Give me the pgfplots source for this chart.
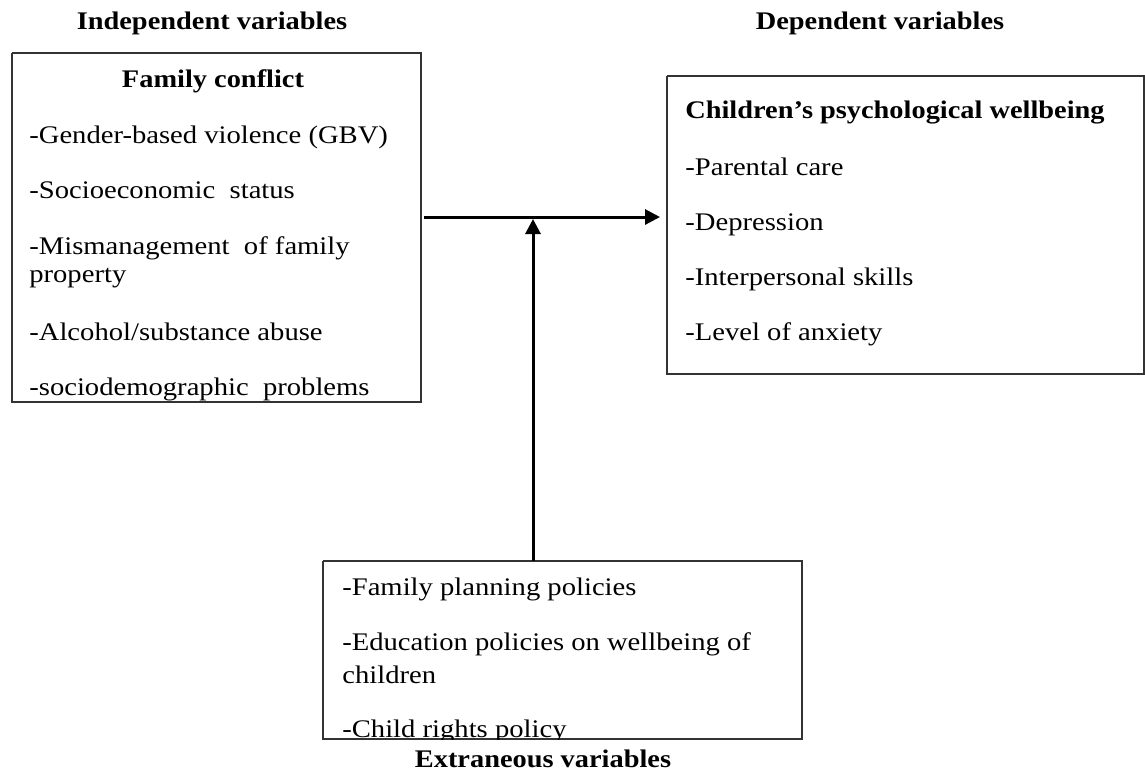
\documentclass[border=0pt]{standalone}
\usepackage{pgfplots}
\pgfplotsset{compat=1.18}
\usepackage{fontspec}
\setmainfont{Liberation Serif}[FakeStretch=1.13]
\newfontfamily\bfont{Liberation Serif}[FakeStretch=1.12]
\usetikzlibrary{arrows.meta}
\definecolor{boxc}{HTML}{333333}
\tikzset{
  txt/.style={anchor=base west, inner sep=0pt, font=\fontsize{15.2}{17}\selectfont},
  hd/.style={anchor=base, inner sep=0pt, font=\fontsize{15.2}{17}\bfont\bfseries},
}
\begin{document}
\begin{tikzpicture}
\begin{axis}[
  width=687pt, height=462.6pt, scale only axis,
  xmin=0, xmax=1145, ymin=0, ymax=771, y dir=reverse,
  axis lines=none, clip=false,
]
\path (axis cs:0,0) rectangle (axis cs:1145,771);
% boxes
\addplot[boxc, line width=0.9pt, mark=none] coordinates {(12,53) (421,53) (421,402) (12,402) (12,53)};
\addplot[boxc, line width=0.9pt, mark=none] coordinates {(667,76) (1144,76) (1144,374) (667,374) (667,76)};
\addplot[boxc, line width=0.9pt, mark=none] coordinates {(323,561) (802,561) (802,739) (323,739) (323,561)};
% arrows
\addplot[black, line width=1.8pt, mark=none, -{Triangle[length=9pt,width=9pt]}] coordinates {(424,217) (660,217)};
\addplot[black, line width=1.8pt, mark=none, -{Triangle[length=9pt,width=9pt]}] coordinates {(533,561) (533,219)};
% headings
\node[hd] at (axis cs:212,29) {Independent variables};
\node[hd] at (axis cs:880,29) {Dependent variables};
\node[hd] at (axis cs:543,767) {Extraneous variables};
% left box
\node[hd] at (axis cs:213,87) {Family conflict};
\node[txt] at (axis cs:29,143) {-Gender-based violence (GBV)};
\node[txt] at (axis cs:29,198) {-Socioeconomic\ \ status};
\node[txt] at (axis cs:29,254) {-Mismanagement\ \ of family};
\node[txt] at (axis cs:29,282) {property};
\node[txt] at (axis cs:29,340) {-Alcohol/substance abuse};
\node[txt] at (axis cs:29,395) {-sociodemographic\ \ problems};
% right box
\node[hd, anchor=base west] at (axis cs:685,118) {Children’s psychological wellbeing};
\node[txt] at (axis cs:685,175) {-Parental care};
\node[txt] at (axis cs:685,230) {-Depression};
\node[txt] at (axis cs:685,285) {-Interpersonal skills};
\node[txt] at (axis cs:685,340) {-Level of anxiety};
% bottom box
\begin{scope}
\clip (axis cs:323,561) rectangle (axis cs:802,739);
\node[txt] at (axis cs:342,595) {-Family planning policies};
\node[txt] at (axis cs:342,650) {-Education policies on wellbeing of};
\node[txt] at (axis cs:342,683) {children};
\node[txt] at (axis cs:342,737) {-Child rights policy};
\end{scope}
\end{axis}
\end{tikzpicture}
\end{document}
